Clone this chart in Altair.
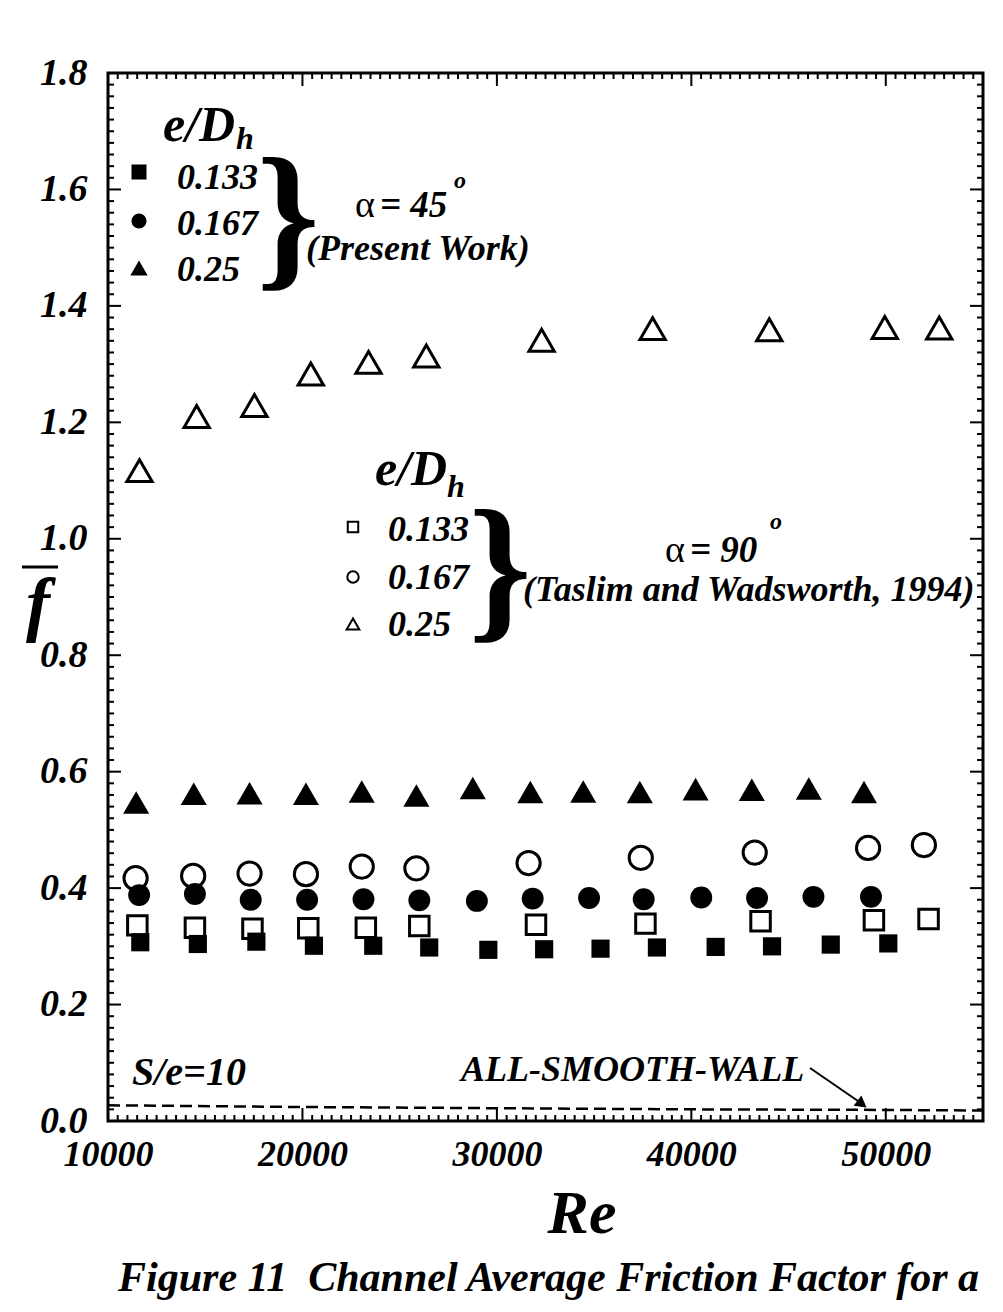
import altair as alt
import pandas as pd
import numpy as np

# ---------------- data ----------------
# alpha = 45 deg, present work (filled symbols)
re_45_133 = [11660, 14620, 17630, 20590, 23640, 26520, 29560, 32430, 35330, 38230, 41250, 44150, 47170, 50130]
f_45_133 = [0.307, 0.304, 0.308, 0.301, 0.301, 0.298, 0.294, 0.295, 0.296, 0.298, 0.299, 0.300, 0.303, 0.305]
re_45_167 = [11600, 14470, 17340, 20240, 23140, 26010, 28970, 31840, 34740, 37550, 40510, 43380, 46280, 49240]
f_45_167 = [0.388, 0.390, 0.380, 0.380, 0.381, 0.379, 0.378, 0.382, 0.383, 0.381, 0.384, 0.383, 0.385, 0.385]
re_45_25 = [11450, 14410, 17280, 20180, 23050, 25860, 28760, 31720, 34440, 37350, 40220, 43110, 46040, 48880]
f_45_25 = [0.547, 0.562, 0.563, 0.562, 0.566, 0.559, 0.572, 0.565, 0.566, 0.565, 0.570, 0.569, 0.571, 0.565]
# alpha = 90 deg, Taslim and Wadsworth 1994 (open symbols)
re_90_133 = [11510, 14470, 17430, 20300, 23260, 26010, 32010, 37640, 43560, 49390, 52200]
f_90_133 = [0.336, 0.332, 0.330, 0.331, 0.332, 0.335, 0.337, 0.339, 0.343, 0.345, 0.347]
re_90_167 = [11420, 14380, 17280, 20180, 23050, 25860, 31630, 37400, 43260, 49090, 51960]
f_90_167 = [0.417, 0.421, 0.425, 0.424, 0.437, 0.434, 0.443, 0.452, 0.461, 0.469, 0.474]
re_90_25 = [11620, 14560, 17530, 20430, 23400, 26370, 32300, 38010, 44010, 49950, 52750]
f_90_25 = [1.117, 1.210, 1.229, 1.283, 1.303, 1.314, 1.341, 1.361, 1.359, 1.363, 1.362]
# all-smooth-wall reference (dashed)
re_smooth = [10000, 20000, 30000, 40000, 50000, 55000]
f_smooth = [0.027, 0.024, 0.022, 0.020, 0.019, 0.018]

# axis ticks / labels
x_major = [10000, 20000, 30000, 40000, 50000]
y_major = [0.0, 0.2, 0.4, 0.6, 0.8, 1.0, 1.2, 1.4, 1.6, 1.8]
x_minor = [v for v in range(10000, 55001, 500) if v % 10000 != 0]
y_minor = [round(v, 2) for v in np.arange(0.0, 1.8001, 0.02) if round(v * 100) % 20 != 0]

legend_values = ["0.133", "0.167", "0.25"]

# ---------------- layout ----------------
W, H = 875, 1048
OX, OY = 108, 73          # page position of plot origin
FONT = "Liberation Serif"
BLACK = "black"

xs = alt.Scale(domain=[10000, 55000], nice=False, zero=False)
ys = alt.Scale(domain=[0, 1.8], nice=False, zero=False)

xax = alt.Axis(values=x_major, format="d", title=None, ticks=False, domain=False, grid=False,
               labelFlush=False, labelOverlap=False, labelPadding=16, labelFontSize=36)
yax = alt.Axis(values=y_major, format=".1f", title=None, ticks=False, domain=False, grid=False,
               labelFlush=False, labelOverlap=False, labelPadding=21, labelFontSize=38)


def series(re, f, shape, size, filled, sw=3.0):
    df = pd.DataFrame({"Re": re, "f": f})
    m = alt.Chart(df).mark_point(shape=shape, size=size, filled=filled, color=BLACK,
                                 strokeWidth=sw, opacity=1, fillOpacity=1)
    return m.encode(x=alt.X("Re:Q", scale=xs, axis=xax), y=alt.Y("f:Q", scale=ys, axis=yax))


one = pd.DataFrame({"k": [0]})


def txt(s, px, py, size, align="left", weight="bold", style="italic"):
    return alt.Chart(one).mark_text(text=s, align=align, baseline="middle", fontSize=size,
                                    fontWeight=weight, fontStyle=style, font=FONT, color=BLACK
                                    ).encode(x=alt.value(px - OX), y=alt.value(py - OY))


def sym(px, py, shape, size, filled, sw=2.0, angle=0):
    return alt.Chart(one).mark_point(shape=shape, size=size, filled=filled, color=BLACK,
                                     strokeWidth=sw, opacity=1, fillOpacity=1, angle=angle
                                     ).encode(x=alt.value(px - OX), y=alt.value(py - OY))


def seg(x1, y1, x2, y2, sw=2.0):
    return alt.Chart(one).mark_rule(color=BLACK, strokeWidth=sw).encode(
        x=alt.value(x1 - OX), y=alt.value(y1 - OY), x2=alt.value(x2 - OX), y2=alt.value(y2 - OY))


# inner tick marks
def yticks(vals, length):
    df = pd.DataFrame({"v": vals})
    left = alt.Chart(df).mark_rule(color=BLACK, strokeWidth=2).encode(
        y=alt.Y("v:Q", scale=ys, axis=yax), x=alt.value(0), x2=alt.value(length))
    right = alt.Chart(df).mark_rule(color=BLACK, strokeWidth=2).encode(
        y=alt.Y("v:Q", scale=ys, axis=yax), x=alt.value(W), x2=alt.value(W - length))
    return [left, right]


def xticks(vals, length):
    df = pd.DataFrame({"v": vals})
    bottom = alt.Chart(df).mark_rule(color=BLACK, strokeWidth=2).encode(
        x=alt.X("v:Q", scale=xs, axis=xax), y=alt.value(H), y2=alt.value(H - length))
    top = alt.Chart(df).mark_rule(color=BLACK, strokeWidth=2).encode(
        x=alt.X("v:Q", scale=xs, axis=xax), y=alt.value(0), y2=alt.value(length))
    return [bottom, top]


layers = []
layers += yticks(y_major, 13) + yticks(y_minor, 6) + xticks(x_major, 13) + xticks(x_minor, 6)

smooth = alt.Chart(pd.DataFrame({"Re": re_smooth, "f": f_smooth})).mark_line(
    color=BLACK, strokeWidth=2.5, strokeDash=[12, 6]).encode(
    x=alt.X("Re:Q", scale=xs, axis=xax), y=alt.Y("f:Q", scale=ys, axis=yax))
layers.append(smooth)

layers += [
    series(re_90_133, f_90_133, "square", 380, False),
    series(re_90_167, f_90_167, "circle", 540, False),
    series(re_90_25, f_90_25, "triangle-up", 640, False),
    series(re_45_133, f_45_133, "square", 330, True),
    series(re_45_167, f_45_167, "circle", 480, True),
    series(re_45_25, f_45_25, "triangle-up", 680, True),
]

# legend 1 (alpha = 45, present work)
layers += [
    txt("e/D", 163, 126, 50), txt("h", 236, 139, 32),
    sym(139, 172, "square", 225, True), sym(139, 221, "circle", 230, True),
    sym(139, 268, "triangle-up", 300, True),
    txt(legend_values[0], 177, 178, 36), txt(legend_values[1], 177, 224, 36),
    txt(legend_values[2], 177, 270, 36),
    txt("}", 288, 221, 160, align="center", style="normal"),
    txt("\u03b1", 355, 206, 38, weight="normal", style="normal"),
    txt("= 45", 380, 206, 37), txt("o", 454, 181, 24),
    txt("(Present Work)", 306, 249, 36),
]
# legend 2 (alpha = 90, Taslim and Wadsworth)
layers += [
    txt("e/D", 375, 470, 50), txt("h", 447, 487, 32),
    sym(353, 527, "square", 110, False), sym(353, 577, "circle", 130, False),
    sym(353, 624, "triangle-up", 160, False),
    txt(legend_values[0], 388, 530, 36), txt(legend_values[1], 388, 578, 36),
    txt(legend_values[2], 388, 625, 36),
    txt("}", 500, 573, 160, align="center", style="normal"),
    txt("\u03b1", 665, 551, 38, weight="normal", style="normal"),
    txt("= 90", 690, 551, 37), txt("o", 770, 522, 24),
    txt("(Taslim and Wadsworth, 1994)", 523, 590, 36),
]
# other annotations
layers += [
    txt("S/e=10", 132, 1073, 40),
    txt("ALL-SMOOTH-WALL", 461, 1070, 36),
    seg(810, 1068, 858, 1101, 2),
    sym(862, 1104, "triangle-up", 170, True, angle=127),
    txt("Re", 582, 1214, 62, align="center"),
    txt("f", 38, 606, 72, align="center"),
    seg(22, 567, 58, 567, 3),
    txt("Figure 11 \u00a0Channel Average Friction Factor for a", 118, 1278, 42),
]

chart = alt.layer(*layers).properties(
    width=W, height=H,
    autosize=alt.AutoSizeParams(type="none"),
    padding={"left": OX - 8, "top": OY - 8, "right": 12, "bottom": 180},
).configure_view(stroke=BLACK, strokeWidth=3).configure_axis(
    labelFont=FONT, labelFontWeight="bold", labelFontStyle="italic", labelColor=BLACK,
)

chart.save("out.html", embed_options={"renderer": "svg", "actions": False})
